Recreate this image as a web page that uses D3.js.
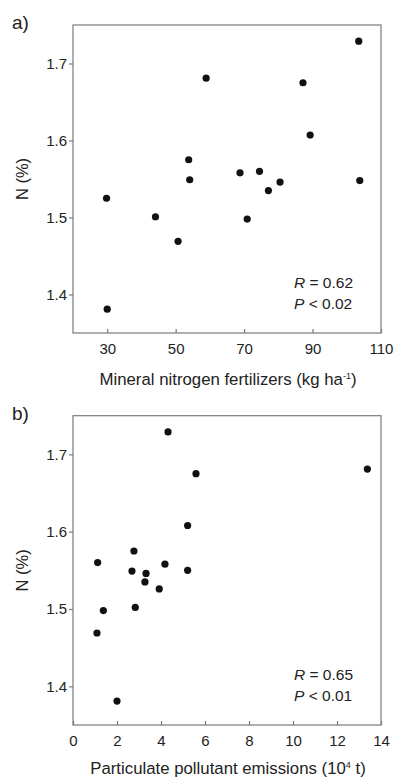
<!DOCTYPE html>
<html>
<head>
<meta charset="utf-8">
<script src="https://cdn.jsdelivr.net/npm/d3@7"></script>
<style>
  body { margin: 0; background: #fff; }
  svg { font-family: "Liberation Sans", Arial, sans-serif; }
  .tick text { fill: #222; }
</style>
</head>
<body>
<div id="chart"></div>
<script>
  // panel a) : mineral nitrogen fertilizers vs N (%)
  const fertilizer = [29.8, 30, 44.1, 50.7, 53.8, 54.1, 58.9, 68.8, 70.9, 74.5, 77.1, 80.5, 87.2, 89.3, 103.5, 103.8]
  const nitrogenA  = [1.525, 1.381, 1.501, 1.469, 1.575, 1.549, 1.681, 1.558, 1.498, 1.560, 1.535, 1.546, 1.675, 1.607, 1.729, 1.548]

  // panel b) : particulate pollutant emissions vs N (%)
  const emissions = [4.32, 5.59, 5.21, 2.77, 1.12, 2.68, 3.32, 4.18, 5.21, 3.27, 3.92, 13.38, 1.38, 2.83, 1.09, 2.0]
  const nitrogenB = [1.729, 1.675, 1.608, 1.575, 1.560, 1.549, 1.546, 1.558, 1.550, 1.535, 1.526, 1.681, 1.498, 1.502, 1.469, 1.381]

  const fertTicks = [30, 50, 70, 90, 110]
  const emisTicks = [0, 2, 4, 6, 8, 10, 12, 14]
  const nTicks = [1.4, 1.5, 1.6, 1.7]

  const width = 394, height = 779

  const svg = d3.select('#chart')
    .append('svg')
    .attr('width', width)
    .attr('height', height)

  function drawPanel(opt) {
    const g = svg.append('g')
    const x = d3.scaleLinear().domain(opt.xDomain).range([73, 381])
    const y = d3.scaleLinear().domain([1.35, 1.75]).range([opt.bottom, opt.top])

    // frame
    g.append('rect')
      .attr('x', 73).attr('y', opt.top)
      .attr('width', 308).attr('height', opt.bottom - opt.top)
      .attr('fill', 'none')
      .attr('stroke', '#7a7a7a')
      .attr('stroke-width', 1.2)

    const xAxis = d3.axisBottom(x)
      .tickValues(opt.xTicks)
      .tickFormat(d3.format('d'))
      .tickSizeInner(-4)
      .tickSizeOuter(0)
      .tickPadding(10)
    const gx = g.append('g')
      .attr('transform', `translate(0,${opt.bottom})`)
      .call(xAxis)
    gx.select('.domain').remove()
    gx.selectAll('line').attr('stroke', '#7a7a7a').attr('stroke-width', 1.2)
    gx.selectAll('text').style('font-size', '15px')

    const yAxis = d3.axisLeft(y)
      .tickValues(nTicks)
      .tickFormat(d3.format('.1f'))
      .tickSizeInner(4)
      .tickSizeOuter(0)
      .tickPadding(2)
    const gy = g.append('g')
      .attr('transform', 'translate(73,0)')
      .call(yAxis)
    gy.select('.domain').remove()
    gy.selectAll('line').attr('stroke', '#7a7a7a').attr('stroke-width', 1.2)
    gy.selectAll('text').style('font-size', '15px')

    // points
    g.selectAll('circle')
      .data(opt.xs.map((d, i) => [d, opt.ys[i]]))
      .enter()
      .append('circle')
      .attr('cx', d => x(d[0]))
      .attr('cy', d => y(d[1]))
      .attr('r', 3.6)
      .attr('fill', '#111')

    // panel letter
    g.append('text')
      .attr('x', 12).attr('y', opt.top + 4)
      .style('font-size', '19px')
      .attr('fill', '#222')
      .text(opt.letter)

    // y label
    g.append('text')
      .attr('transform', `translate(28,${(opt.top + opt.bottom) / 2}) rotate(-90)`)
      .attr('text-anchor', 'middle')
      .style('font-size', '16.5px')
      .attr('fill', '#222')
      .text('N (%)')

    // x label
    const xl = g.append('text')
      .attr('x', 228).attr('y', opt.bottom + opt.labelGap)
      .attr('text-anchor', 'middle')
      .style('font-size', '16.8px')
      .attr('fill', '#222')
    xl.append('tspan').text(opt.xLabel[0])
    xl.append('tspan').attr('dy', -6).style('font-size', '9px').text(opt.xLabel[1])
    xl.append('tspan').attr('dy', 6).text(opt.xLabel[2])

    // stats
    const st = g.append('g').style('font-size', '15.5px').attr('fill', '#222')
    const r = st.append('text').attr('x', 294).attr('y', opt.bottom - 45)
    r.append('tspan').style('font-style', 'italic').text('R')
    r.append('tspan').text(' = ' + opt.stats[0])
    const p = st.append('text').attr('x', 294).attr('y', opt.bottom - 24.5)
    p.append('tspan').style('font-style', 'italic').text('P')
    p.append('tspan').text(' < ' + opt.stats[1])
  }

  drawPanel({
    letter: 'a)',
    top: 25, bottom: 333, labelGap: 52,
    xDomain: [20, 110], xTicks: fertTicks,
    xs: fertilizer, ys: nitrogenA,
    xLabel: ['Mineral nitrogen fertilizers (kg ha', '-1', ')'],
    stats: ['0.62', '0.02']
  })

  drawPanel({
    letter: 'b)',
    top: 415.7, bottom: 725, labelGap: 49,
    xDomain: [0, 14], xTicks: emisTicks,
    xs: emissions, ys: nitrogenB,
    xLabel: ['Particulate pollutant emissions (10', '4', ' t)'],
    stats: ['0.65', '0.01']
  })
</script>
</body>
</html>
